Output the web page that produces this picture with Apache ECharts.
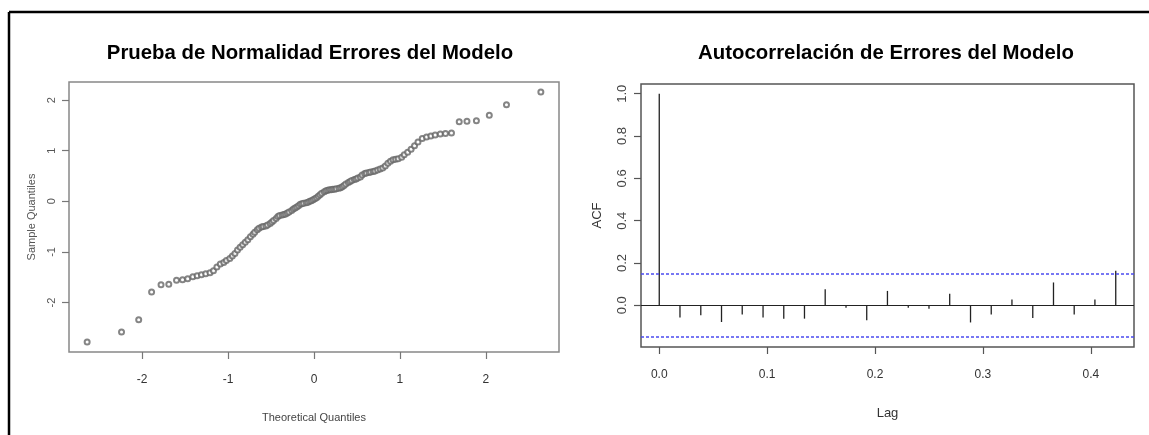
<!DOCTYPE html>
<html>
<head>
<meta charset="utf-8">
<script src="https://cdn.jsdelivr.net/npm/echarts@6/dist/echarts.min.js"></script>
<style>
html,body{margin:0;padding:0;background:#fff;}
#c{width:1149px;height:435px;}
</style>
</head>
<body>
<div id="c"></div>
<script>
// ---------- DATA ----------
const titleLeft = 'Prueba de Normalidad Errores del Modelo';
const titleRight = 'Autocorrelación de Errores del Modelo';

// Normal Q-Q plot: theoretical quantiles (x) and sample quantiles (y)
const qqTheoretical = [
  -2.64,-2.24,-2.04,-1.89,-1.78,-1.69,-1.60,-1.53,-1.47,-1.41,
  -1.36,-1.31,-1.26,-1.21,-1.17,-1.13,-1.09,-1.05,-1.02,-0.98,
  -0.95,-0.92,-0.89,-0.86,-0.83,-0.80,-0.77,-0.74,-0.71,-0.69,
  -0.66,-0.64,-0.61,-0.59,-0.56,-0.54,-0.51,-0.49,-0.47,-0.44,
  -0.42,-0.40,-0.37,-0.35,-0.33,-0.31,-0.29,-0.26,-0.24,-0.22,
  -0.20,-0.18,-0.16,-0.14,-0.12,-0.09,-0.07,-0.05,-0.03,-0.01,
  0.01,0.03,0.05,0.07,0.09,0.12,0.14,0.16,0.18,0.20,
  0.22,0.24,0.26,0.29,0.31,0.33,0.35,0.37,0.40,0.42,
  0.44,0.47,0.49,0.51,0.54,0.56,0.59,0.61,0.64,0.66,
  0.69,0.71,0.74,0.77,0.80,0.83,0.86,0.89,0.92,0.95,
  0.98,1.02,1.05,1.09,1.13,1.17,1.21,1.26,1.31,1.36,
  1.41,1.47,1.53,1.60,1.69,1.78,1.89,2.04,2.24,2.64
];
const qqSample = [
  -2.78,-2.58,-2.34,-1.79,-1.65,-1.64,-1.56,-1.55,-1.53,-1.49,
  -1.47,-1.45,-1.43,-1.41,-1.37,-1.30,-1.24,-1.21,-1.17,-1.13,
  -1.08,-1.03,-0.96,-0.91,-0.86,-0.81,-0.76,-0.70,-0.65,-0.61,
  -0.56,-0.53,-0.51,-0.50,-0.49,-0.47,-0.44,-0.41,-0.38,-0.34,
  -0.30,-0.28,-0.27,-0.26,-0.25,-0.23,-0.21,-0.18,-0.15,-0.13,
  -0.11,-0.09,-0.06,-0.05,-0.04,-0.03,-0.02,0.00,0.01,0.03,
  0.05,0.07,0.10,0.13,0.16,0.19,0.21,0.22,0.23,0.23,
  0.24,0.24,0.25,0.26,0.27,0.29,0.31,0.34,0.37,0.39,
  0.41,0.43,0.44,0.46,0.48,0.52,0.55,0.56,0.57,0.58,
  0.59,0.60,0.62,0.64,0.66,0.70,0.75,0.79,0.82,0.83,
  0.84,0.87,0.92,0.97,1.03,1.10,1.17,1.24,1.27,1.29,
  1.31,1.33,1.34,1.35,1.57,1.58,1.59,1.70,1.91,2.16
];
const qqXTicks = [-2,-1,0,1,2];
const qqXTickLabels = ['-2','-1','0','1','2'];
const qqYTicks = [-2,-1,0,1,2];
const qqYTickLabels = ['-2','-1','0','1','2'];

// ACF
const acfLags = [0,0.0192,0.0385,0.0577,0.0769,0.0962,0.1154,0.1346,0.1538,0.1731,
  0.1923,0.2115,0.2308,0.2500,0.2692,0.2885,0.3077,0.3269,0.3462,0.3654,
  0.3846,0.4038,0.4231];
const acfValues = [1.0,-0.058,-0.047,-0.079,-0.044,-0.058,-0.063,-0.063,0.076,-0.012,
  -0.071,0.068,-0.011,-0.016,0.055,-0.081,-0.043,0.028,-0.060,0.108,
  -0.043,0.028,0.163];
const acfConfBound = 0.151;
const acfXTicks = [0,0.1,0.2,0.3,0.4];
const acfXTickLabels = ['0.0','0.1','0.2','0.3','0.4'];
const acfYTicks = [0,0.2,0.4,0.6,0.8,1.0];
const acfYTickLabels = ['0.0','0.2','0.4','0.6','0.8','1.0'];

// ---------- CHART ----------
function fmt(ticks, labels){
  return function(v){
    for (let i=0;i<ticks.length;i++){ if (Math.abs(ticks[i]-v)<1e-9) return labels[i]; }
    return '';
  };
}
function ext(arr, pad){ // R-style 4% range extension
  const mn=Math.min.apply(null,arr), mx=Math.max.apply(null,arr), d=(mx-mn)*pad;
  return [mn-d, mx+d];
}
const qx = ext(qqTheoretical, 0.04), qy = ext(qqSample, 0.04);
const ax = ext(acfLags, 0.04), ay = ext(acfValues.concat([acfConfBound,-acfConfBound]), 0.04);

const FONT = "'Liberation Sans Narrow','Liberation Sans',Arial,sans-serif";
const SANS = "'Liberation Sans',Arial,sans-serif";
const labelStyle = {fontFamily: FONT, fontSize: 12, color: '#333'};

const chart = echarts.init(document.getElementById('c'), null, {renderer:'canvas'});
chart.setOption({
  animation: false,
  backgroundColor: '#fff',
  graphic: [
    {type:'line', shape:{x1:9,y1:12,x2:1149,y2:12}, style:{stroke:'#000', lineWidth:2.5}},
    {type:'line', shape:{x1:9,y1:12,x2:9,y2:435}, style:{stroke:'#000', lineWidth:2.5}},
    {type:'text', x:310, y:53, scaleX:0.97, style:{text:titleLeft, fontFamily:SANS,
      fontWeight:'bold', fontSize:21, fill:'#000', align:'center', verticalAlign:'middle'}},
    {type:'text', x:886, y:53, scaleX:0.97, style:{text:titleRight, fontFamily:SANS,
      fontWeight:'bold', fontSize:21, fill:'#000', align:'center', verticalAlign:'middle'}}
  ],
  grid: [
    {left:69, top:82, width:490, height:270, show:true, borderColor:'#888', borderWidth:1.5, backgroundColor:'transparent'},
    {left:641, top:84, width:493, height:263, show:true, borderColor:'#555', borderWidth:1.5, backgroundColor:'transparent'}
  ],
  xAxis: [
    {type:'value', gridIndex:0, min:qx[0], max:qx[1],
      name:'Theoretical Quantiles', nameLocation:'middle', nameGap:60,
      nameTextStyle:{fontFamily:FONT, fontSize:11, color:'#444'},
      axisLine:{show:false, onZero:false}, splitLine:{show:false},
      axisTick:{show:true, length:7, customValues:qqXTicks, lineStyle:{color:'#777', width:1.2}},
      axisLabel:Object.assign({customValues:qqXTicks, formatter:fmt(qqXTicks,qqXTickLabels), margin:22}, labelStyle)},
    {type:'value', gridIndex:1, min:ax[0], max:ax[1],
      name:'Lag', nameLocation:'middle', nameGap:60,
      nameTextStyle:{fontFamily:FONT, fontSize:13, color:'#333'},
      axisLine:{show:false, onZero:false}, splitLine:{show:false},
      axisTick:{show:true, length:7, customValues:acfXTicks, lineStyle:{color:'#555', width:1.2}},
      axisLabel:Object.assign({customValues:acfXTicks, formatter:fmt(acfXTicks,acfXTickLabels), margin:22}, labelStyle)}
  ],
  yAxis: [
    {type:'value', gridIndex:0, min:qy[0], max:qy[1],
      name:'Sample Quantiles', nameLocation:'middle', nameGap:32, nameRotate:90,
      nameTextStyle:{fontFamily:SANS, fontSize:11, color:'#555'},
      axisLine:{show:false, onZero:false}, splitLine:{show:false},
      axisTick:{show:true, length:7, customValues:qqYTicks, lineStyle:{color:'#777', width:1.2}},
      axisLabel:Object.assign({customValues:qqYTicks, formatter:fmt(qqYTicks,qqYTickLabels), rotate:90, margin:12}, labelStyle, {fontFamily:SANS, fontSize:11, color:'#555'})},
    {type:'value', gridIndex:1, min:ay[0], max:ay[1],
      name:'ACF', nameLocation:'middle', nameGap:37, nameRotate:90,
      nameTextStyle:{fontFamily:SANS, fontSize:13, color:'#333'},
      axisLine:{show:false, onZero:false}, splitLine:{show:false},
      axisTick:{show:true, length:7, customValues:acfYTicks, lineStyle:{color:'#555', width:1.2}},
      axisLabel:Object.assign({customValues:acfYTicks, formatter:fmt(acfYTicks,acfYTickLabels), rotate:90, margin:12}, labelStyle, {fontFamily:SANS, fontSize:13, color:'#444'})}
  ],
  series: [
    {type:'scatter', xAxisIndex:0, yAxisIndex:0, symbol:'emptyCircle', symbolSize:5,
      itemStyle:{color:'#666', borderColor:'#666', borderWidth:0.9},
      data: qqTheoretical.map((x,i)=>[x, qqSample[i]])},
    {type:'custom', xAxisIndex:1, yAxisIndex:1,
      data: acfLags.map((l,i)=>[l, acfValues[i]]),
      renderItem: function(params, api){
        const p0 = api.coord([api.value(0), 0]);
        const p1 = api.coord([api.value(0), api.value(1)]);
        return {type:'line', shape:{x1:p0[0], y1:p0[1], x2:p1[0], y2:p1[1]}, style:{stroke:'#222', lineWidth:1.3}};
      },
      markLine: {silent:true, symbol:'none', label:{show:false}, animation:false,
        data: [
          {yAxis:0, lineStyle:{color:'#222', type:'solid', width:1.2}},
          {yAxis:acfConfBound, lineStyle:{color:'#4b4bef', type:[3,2], width:1.6}},
          {yAxis:-acfConfBound, lineStyle:{color:'#4b4bef', type:[3,2], width:1.6}}
        ]}
    }
  ]
});
</script>
</body>
</html>
